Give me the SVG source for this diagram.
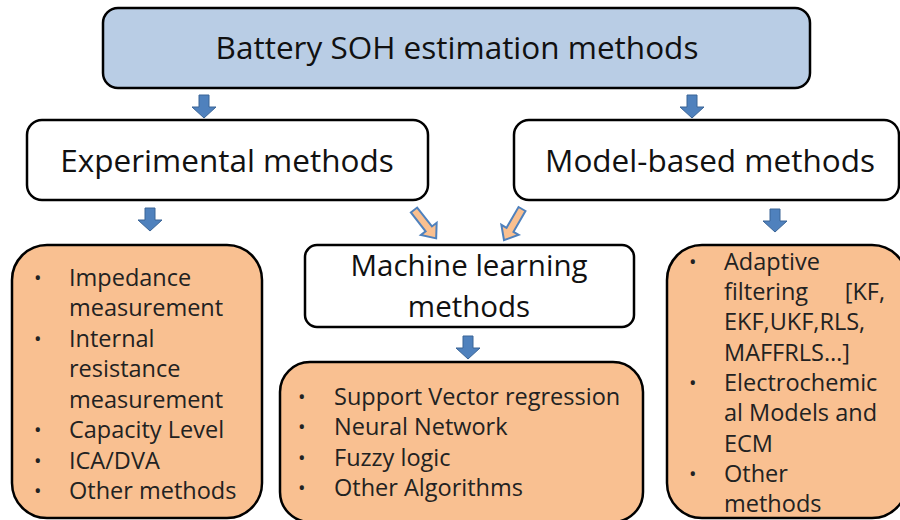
<svg xmlns="http://www.w3.org/2000/svg" width="900" height="520" viewBox="0 0 900 520">
<defs>
<style>
.box{stroke:#000;stroke-width:2.5}
.white{fill:#fff}
.blue{fill:#b9cde5}
.orange{fill:#f9c091}
.t{font-family:"Open Sans","Noto Sans",sans-serif;fill:#111}
.big{font-size:31.5px}
.mlt{font-size:29.5px}
.li{font-size:23.5px;fill:#222}
.bul{font-size:20px}
.darr{fill:#4f81bd;stroke:#3a6496;stroke-width:1}
.oarr{fill:#fac090;stroke:#4f81bd;stroke-width:2}
</style>
<path id="down" d="M-5,0 H5 V12 H12 L0,23 L-12,12 H-5 Z"/>
<path id="diag" d="M-4,0 H4 V24 H10 L0,36 L-10,24 H-4 Z"/>
</defs>
<rect width="900" height="520" fill="#fff"/>
<g id="connectors">
<use href="#down" class="darr" transform="translate(204,95)"/>
<use href="#down" class="darr" transform="translate(692,95)"/>
<use href="#down" class="darr" transform="translate(150,208)"/>
<use href="#down" class="darr" transform="translate(775,209)"/>
<use href="#down" class="darr" transform="translate(468,336)"/>
<use href="#diag" class="oarr" transform="translate(414,210) rotate(-38)"/>
<use href="#diag" class="oarr" transform="translate(522,209) rotate(30)"/>
</g>
<g id="root">
<rect class="box blue" x="103" y="8" width="707" height="80" rx="15"/>
<text class="t big" x="457" y="59" text-anchor="middle">Battery SOH estimation methods</text>
</g>
<g id="experimental">
<rect class="box white" x="27" y="120" width="401" height="80" rx="15"/>
<text class="t big" x="227" y="172" text-anchor="middle">Experimental methods</text>
</g>
<g id="model">
<rect class="box white" x="514" y="120" width="385" height="80" rx="15"/>
<text class="t big" x="710" y="172" text-anchor="middle">Model-based methods</text>
</g>
<g id="ml">
<rect class="box white" x="305" y="245" width="329" height="82" rx="12"/>
<text class="t mlt" x="469" y="276" text-anchor="middle">Machine learning</text>
<text class="t mlt" x="469" y="317" text-anchor="middle">methods</text>
</g>
<g id="exp-list">
<rect class="box orange" x="12" y="245" width="250" height="273" rx="35"/>
<g class="t li">
<text class="bul" x="34" y="285">•</text><text x="69" y="286">Impedance</text>
<text x="69" y="316">measurement</text>
<text class="bul" x="34" y="346">•</text><text x="69" y="347">Internal</text>
<text x="69" y="377">resistance</text>
<text x="69" y="408">measurement</text>
<text class="bul" x="34" y="437">•</text><text x="69" y="438">Capacity Level</text>
<text class="bul" x="34" y="468">•</text><text x="69" y="469">ICA/DVA</text>
<text class="bul" x="34" y="498">•</text><text x="69" y="499">Other methods</text>
</g>
</g>
<g id="ml-list">
<rect class="box orange" x="280" y="362" width="363" height="160" rx="30"/>
<g class="t li">
<text class="bul" x="298" y="404">•</text><text x="334" y="405">Support Vector regression</text>
<text class="bul" x="298" y="434">•</text><text x="334" y="435">Neural Network</text>
<text class="bul" x="298" y="465">•</text><text x="334" y="466">Fuzzy logic</text>
<text class="bul" x="298" y="495">•</text><text x="334" y="496">Other Algorithms</text>
</g>
</g>
<g id="model-list">
<rect class="box orange" x="667" y="245" width="240" height="273" rx="35"/>
<g class="t li">
<text class="bul" x="689" y="269">•</text><text x="724" y="270">Adaptive</text>
<text x="724" y="300">filtering</text><text x="885" y="300" text-anchor="end">[KF,</text>
<text x="724" y="330">EKF,UKF,RLS,</text>
<text x="724" y="361">MAFFRLS…]</text>
<text class="bul" x="689" y="390">•</text><text x="724" y="391">Electrochemic</text>
<text x="724" y="421">al Models and</text>
<text x="724" y="452">ECM</text>
<text class="bul" x="689" y="481">•</text><text x="724" y="482">Other</text>
<text x="724" y="512">methods</text>
</g>
</g>
</svg>
